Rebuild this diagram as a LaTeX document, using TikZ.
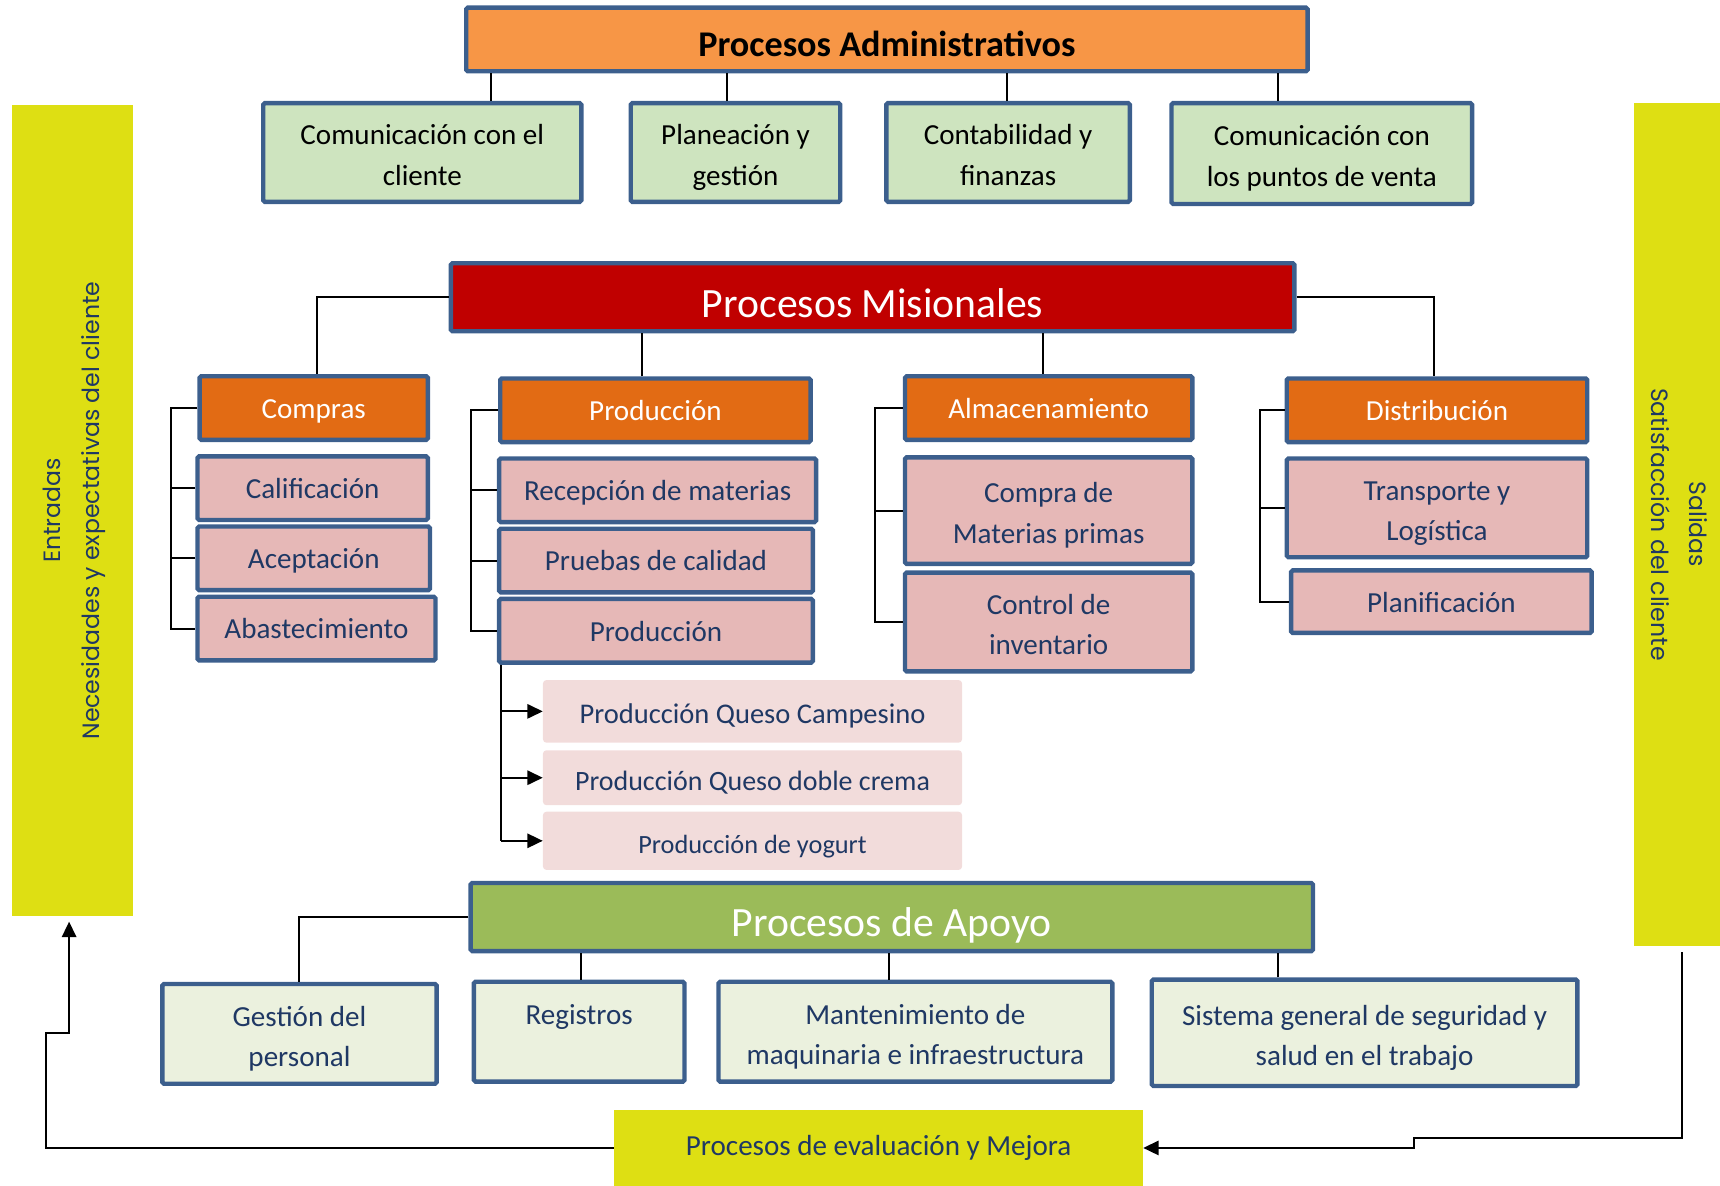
\documentclass[tikz,border=0pt]{standalone}
\usepackage{fontspec}
\usepackage{graphicx}
\setmainfont{Carlito}
\newfontfamily\sidefont{Poppins}
\usetikzlibrary{arrows.meta}

\definecolor{framebl}{HTML}{3C5F8D}
\definecolor{navytxt}{HTML}{1F3864}
\definecolor{admorange}{HTML}{F79646}
\definecolor{admgreen}{HTML}{CEE4BF}
\definecolor{misred}{HTML}{C00000}
\definecolor{headorange}{HTML}{E26B14}
\definecolor{itempink}{HTML}{E6B8B7}
\definecolor{subpink}{HTML}{F2DCDB}
\definecolor{apogreen}{HTML}{9BBB59}
\definecolor{apolight}{HTML}{EBF1DE}
\definecolor{sideyellow}{HTML}{DEDF13}

\tikzset{
    box/.style={
           rectangle,
           draw=framebl, line width=4pt,
           rounded corners=1.5pt,
           align=center,
           font=\fontsize{26.5}{37}\selectfont,
           text height=27pt, text depth=8pt,   % text sits near the top
           },
    twoline/.style={text height=68pt, text depth=8pt},
    admhead/.style={box, fill=admorange, font=\fontsize{33}{40}\selectfont\bfseries,
           text height=32pt, text depth=1pt},
    admsub/.style={box, twoline, fill=admgreen, text=black},
    mishead/.style={box, fill=misred, text=white, font=\fontsize{38}{44}\selectfont,
           text height=37pt, text depth=1pt},
    colhead/.style={box, fill=headorange, text=white},
    pinkitem/.style={box, fill=itempink, text=navytxt},
    queso/.style={rectangle, rounded corners=3pt, fill=subpink, text=navytxt,
           font=\fontsize{26}{37}\selectfont, text height=24pt, text depth=1pt},
    apohead/.style={box, fill=apogreen, text=white, font=\fontsize{38}{44}\selectfont,
           text height=37pt, text depth=1pt},
    aposub/.style={box, twoline, fill=apolight, text=navytxt},
    sidebar/.style={rectangle, fill=sideyellow, text=navytxt,
           font=\sidefont\fontsize{21.5}{35}\selectfont},
    evalbox/.style={rectangle, fill=sideyellow, text=navytxt,
           font=\fontsize{26.5}{37}\selectfont},
    link/.style={draw=black, line width=1.8pt},
    flow/.style={link, -{Triangle[length=14pt,width=13pt]}},
}

\begin{document}
\begin{tikzpicture}[x=1pt, y=-1pt]
    \useasboundingbox (0,0) rectangle (1568,1081);

    % Procesos Administrativos
    \node[admhead, minimum width=767pt, minimum height=58pt] (admin) at (808.5,36) {Procesos Administrativos};
    \node[admsub, minimum width=290pt, minimum height=90pt] (comcli) at (385,139) {Comunicación con el\\cliente};
    \node[admsub, minimum width=191pt, minimum height=90pt] (planea) at (670.5,139) {Planeación y\\gestión};
    \node[admsub, minimum width=222pt, minimum height=90pt] (conta) at (919,139) {Contabilidad y\\finanzas};
    \node[admsub, minimum width=274pt, minimum height=92pt] (compv) at (1205,140) {Comunicación con\\los puntos de venta};

    \foreach \n/\dx in {comcli/63pt, planea/-8pt, conta/-1pt, compv/-40pt}
        \draw[link] ([xshift=\dx]\n.north) -- ([xshift=\dx]\n.north |- admin.south);

    % Procesos Misionales
    \node[mishead, minimum width=769pt, minimum height=62pt] (mision) at (795.5,271) {Procesos Misionales};

    % Compras
    \node[colhead, minimum width=208pt, minimum height=58pt] (compras) at (286,372) {Compras};
    \node[pinkitem, minimum width=210pt, minimum height=58pt] (calif) at (285,445) {Calificación};
    \node[pinkitem, minimum width=212pt, minimum height=58pt] (acept) at (286,509) {Aceptación};
    \node[pinkitem, minimum width=217pt, minimum height=58pt] (abast) at (288.5,573) {Abastecimiento};

    % Produccion
    \node[colhead, minimum width=283pt, minimum height=58pt] (prodh) at (597.5,374) {Producción};
    \node[pinkitem, minimum width=289pt, minimum height=58pt] (recep) at (599.5,447) {Recepción de materias};
    \node[pinkitem, minimum width=286pt, minimum height=58pt] (prueb) at (598,511) {Pruebas de calidad};
    \node[pinkitem, minimum width=286pt, minimum height=58pt] (prodit) at (598,575) {Producción};

    \node[queso, minimum width=382pt, minimum height=57pt] (qcamp) at (686,648.5) {Producción Queso Campesino};
    \node[queso, minimum width=382pt, minimum height=50pt, font=\fontsize{25.5}{30}\selectfont] (qdoble) at (686,709) {Producción Queso doble crema};
    \node[queso, minimum width=382pt, minimum height=53pt, font=\fontsize{24}{30}\selectfont] (yogurt) at (686,766.5) {Producción de yogurt};

    % Almacenamiento
    \node[colhead, minimum width=262pt, minimum height=58pt] (almh) at (956,372) {Almacenamiento};
    \node[pinkitem, twoline, minimum width=262pt, minimum height=97pt] (compmp) at (956,465.5) {Compra de\\Materias primas};
    \node[pinkitem, twoline, minimum width=262pt, minimum height=90pt] (control) at (956,567) {Control de\\inventario};

    % Distribucion
    \node[colhead, minimum width=274pt, minimum height=58pt] (disth) at (1310,374) {Distribución};
    \node[pinkitem, twoline, minimum width=274pt, minimum height=90pt] (transp) at (1310,463) {Transporte y\\Logística};
    \node[pinkitem, minimum width=274pt, minimum height=57pt] (planif) at (1314,548.5) {Planificación};

    % branches of the missional processes
    \draw[link] (mision.west) -| ([xshift=3pt]compras.north);
    \draw[link] ([xshift=-12pt]prodh.north) -- ([xshift=-12pt]prodh.north |- mision.south);
    \draw[link] ([xshift=-5pt]almh.north) -- ([xshift=-5pt]almh.north |- mision.south);
    \draw[link] (mision.east) -| ([xshift=-3pt]disth.north);

    % brackets on the left of each column
    \draw[link] (compras.west) -- ++(-24,0) |- (abast.west);
    \foreach \n in {calif, acept}
        \draw[link] (\n.west) -- ++(-22,0);
    \draw[link] (prodh.west) -- ++(-25,0) |- (prodit.west);
    \foreach \n in {recep, prueb}
        \draw[link] (\n.west) -- ++(-24,0);
    \draw[link] (almh.west) -- ++(-25,0) |- (control.west);
    \draw[link] (compmp.west) -- ++(-25,0);
    \draw[link] (disth.west) -- ++(-22,0) |- (planif.west);
    \draw[link] (transp.west) -- ++(-22,0);

    % the three products
    \coordinate (qspine) at ([xshift=4pt]prodit.south west);
    \draw[link] (qspine) -- (qspine |- yogurt.west);
    \foreach \n in {qcamp, qdoble, yogurt}
        \draw[flow] (qspine |- \n.west) -- (\n.west);

    % Procesos de Apoyo
    \node[apohead, minimum width=768pt, minimum height=62pt] (apoyo) at (813,836) {Procesos de Apoyo};
    \node[aposub, minimum width=250pt, minimum height=91pt] (gestion) at (273,942.5) {Gestión del\\personal};
    \node[aposub, minimum width=192pt, minimum height=91pt] (registros) at (528,940.5) {Registros\\\strut};
    \node[aposub, minimum width=359pt, minimum height=91pt] (manten) at (834.5,940.5) {Mantenimiento de\\maquinaria e infraestructura};
    \node[aposub, minimum width=388pt, minimum height=97pt] (sgsst) at (1244,941.5) {Sistema general de seguridad y\\salud en el trabajo};

    \draw[link] (apoyo.west) -| (gestion.north);
    \foreach \n/\dx in {registros/2pt, manten/-24pt, sgsst/-79pt}
        \draw[link] ([xshift=\dx]\n.north) -- ([xshift=\dx]\n.north |- apoyo.south);

    % entradas, salidas and evaluation
    \node[sidebar, minimum width=110pt, minimum height=739pt] (entradas) at (66,465.5)
        {\rotatebox{90}{\begin{tabular}{@{}c@{}}Entradas\\Necesidades y expectativas del cliente\end{tabular}}};
    \node[sidebar, minimum width=80pt, minimum height=768pt] (salidas) at (1530,478)
        {\rotatebox{-90}{\begin{tabular}{@{}c@{}}Salidas\\Satisfacción del cliente\end{tabular}}};
    \node[evalbox, minimum width=482pt, minimum height=69pt] (eval) at (801,1046.5) {Procesos de evaluación y Mejora};

    \coordinate (lbend) at (42,942);
    \coordinate (rbend) at (1289,1037);
    \draw[flow] (eval.west) -| (lbend) -| ([xshift=-3pt,yshift=-5pt]entradas.south);
    \draw[flow] ([xshift=3pt,yshift=-6pt]salidas.south) |- (rbend) |- (eval.east);
\end{tikzpicture}
\end{document}
